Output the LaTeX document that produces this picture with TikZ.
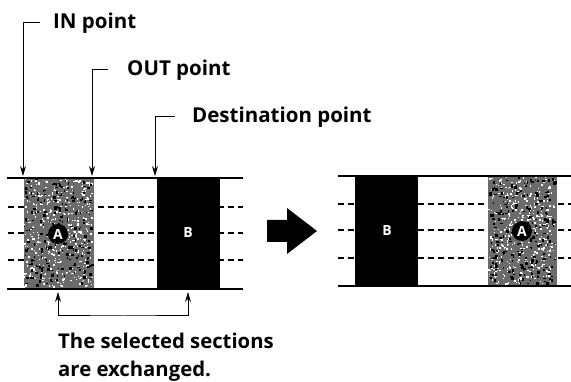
\documentclass[tikz,border=0pt]{standalone}
\usepackage{fontspec}
\setmainfont{Open Sans}
\usetikzlibrary{arrows.meta}
\tikzset{
  lbltxt/.style={anchor=west, inner sep=0pt, font=\bfseries\fontsize{20.5}{24}\selectfont},
  captxt/.style={anchor=north west, inner sep=0pt, align=left, font=\bfseries\fontsize{20.3}{28}\selectfont},
  leadline/.style={line width=1pt, -{Stealth[length=10pt,width=6pt]}},
  stripline/.style={line width=1.6pt},
  dashline/.style={line width=1.4pt, dash pattern=on 6pt off 4pt},
  blkfill/.style={fill=black},
  tagtxt/.style={inner sep=0pt, text=white, font=\bfseries\fontsize{14}{16}\selectfont},
  ctagtxt/.style={circle, fill=black, inner sep=2pt, minimum size=20pt, text=white, font=\bfseries\fontsize{14}{16}\selectfont},
}
\newcommand{\mottle}[4]{% x0 y0 w h
  \fill[black!58] (#1,#2) rectangle ++(#3,#4);
  \foreach \k in {1,...,420}{
    \fill[white] ({#1+(#3-2)*rnd},{#2+(#4-2)*rnd}) rectangle ++({0.6+1.6*rnd},{0.6+1.6*rnd});
  }
  \foreach \k in {1,...,220}{
    \fill[black] ({#1+(#3-3)*rnd},{#2+(#4-3)*rnd}) rectangle ++({0.8+2.4*rnd},{0.8+2.4*rnd});
  }
}
\begin{document}
\begin{tikzpicture}[x=1pt,y=-1pt]
\pgfmathsetseed{11}
\useasboundingbox (0,0) rectangle (571,382);
% ---------- left strip ----------
\foreach \yy in {207,233,260}{
  \draw[dashline] (8,\yy) -- (243,\yy);
}
\mottle{24}{178}{70}{110}
\fill[blkfill] (157,178) rectangle (220,288);
\draw[stripline] (7,178) -- (243,178);
\draw[stripline] (7,289) -- (243,289);
\node[ctagtxt] (tagA) at (58,234) {A};
\node[tagtxt] (tagB) at (188,233) {B};
% ---------- right strip ----------
\foreach \yy in {204,230,258}{
  \draw[dashline] (338,\yy) -- (571,\yy);
}
\mottle{488}{176}{69}{110}
\fill[blkfill] (355,176) rectangle (418,286);
\draw[stripline] (338,176) -- (571,176);
\draw[stripline] (338,286) -- (571,286);
\node[tagtxt] (tagB2) at (387,231) {B};
\node[ctagtxt] (tagA2) at (522,231) {A};
% ---------- big arrow ----------
\fill[black] (267,220) -- (287,220) -- (287,208) -- (317,231) -- (287,254) -- (287,242) -- (267,242) -- cycle;
% ---------- top labels ----------
\node[lbltxt] (inl) at (53,23) {IN point};
\node[lbltxt] (outl) at (127,70) {OUT point};
\node[lbltxt] (destl) at (192,117) {Destination point};
\coordinate (inpt) at (23,176);
\coordinate (outpt) at (92,176);
\coordinate (destpt) at (155,176);
\draw[leadline] ([xshift=-13pt]inl.west) -| (inpt);
\draw[leadline] ([xshift=-19pt]outl.west) -| (outpt);
\draw[leadline] ([xshift=-17pt]destl.west) -| (destpt);
% ---------- bottom bracket ----------
\coordinate (selA) at (58,292);
\coordinate (selB) at (188,292);
\coordinate (brk) at (123,316);
\draw[line width=1pt, {Stealth[length=10pt,width=6pt]}-{Stealth[length=10pt,width=6pt]}] (selA) |- (brk) -| (selB);
\node[captxt] (caption) at (58,333) {The selected sections\\are exchanged.};
\end{tikzpicture}
\end{document}
